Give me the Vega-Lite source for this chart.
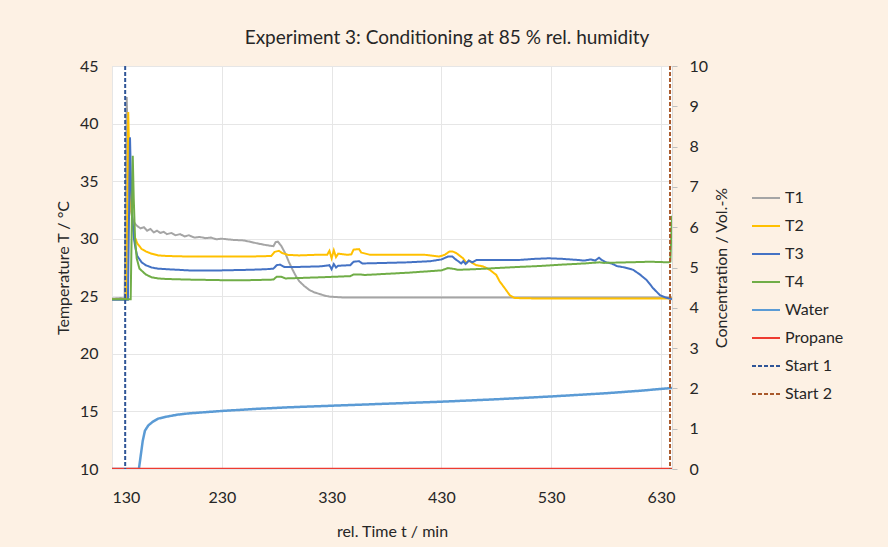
{
  "$schema": "https://vega.github.io/schema/vega-lite/v6.json",
  "width": 560,
  "height": 403,
  "autosize": {"type": "none"},
  "padding": {"left": 112, "top": 66, "right": 216, "bottom": 78},
  "background": "#FDF1E4",
  "title": {"text": "Experiment 3: Conditioning at 85 % rel. humidity", "font": "Lato", "fontSize": 19, "fontWeight": "normal", "color": "#262626", "anchor": "middle", "frame": "group", "dx": 55, "offset": -5, "baseline": "alphabetic"},
  "config": {
    "font": "Lato",
    "view": {"fill": "white", "stroke": "#d9d9d9"},
    "axis": {"labelFont": "Lato", "titleFont": "Lato", "labelColor": "#262626", "titleColor": "#262626", "titleFontWeight": "normal", "labelFontSize": 16, "titleFontSize": 16, "gridColor": "#e6e6e6"},
    "legend": {"labelFont": "Lato", "labelFontSize": 16, "labelColor": "#262626"}
  },
  "datasets": {
    "temp": [
      {"t":130,"value":24.8,"series":"T1"},{"t":138,"value":24.85,"series":"T1"},{"t":141.5,"value":24.8,"series":"T1"},{"t":142.5,"value":33,"series":"T1"},{"t":143.4,"value":42.3,"series":"T1"},{"t":144.3,"value":38.5,"series":"T1"},{"t":145.5,"value":34.5,"series":"T1"},{"t":147,"value":32.5,"series":"T1"},{"t":149,"value":31.6,"series":"T1"},{"t":151,"value":31.3,"series":"T1"},{"t":153,"value":31.1,"series":"T1"},{"t":156,"value":30.9,"series":"T1"},{"t":159,"value":31.0,"series":"T1"},{"t":162,"value":30.7,"series":"T1"},{"t":165,"value":30.85,"series":"T1"},{"t":168,"value":30.55,"series":"T1"},{"t":171,"value":30.7,"series":"T1"},{"t":174,"value":30.5,"series":"T1"},{"t":177,"value":30.6,"series":"T1"},{"t":180,"value":30.4,"series":"T1"},{"t":184,"value":30.5,"series":"T1"},{"t":188,"value":30.3,"series":"T1"},{"t":192,"value":30.4,"series":"T1"},{"t":196,"value":30.2,"series":"T1"},{"t":200,"value":30.3,"series":"T1"},{"t":205,"value":30.1,"series":"T1"},{"t":210,"value":30.15,"series":"T1"},{"t":215,"value":30.05,"series":"T1"},{"t":220,"value":30.1,"series":"T1"},{"t":225,"value":29.95,"series":"T1"},{"t":230,"value":30.0,"series":"T1"},{"t":240,"value":29.9,"series":"T1"},{"t":250,"value":29.85,"series":"T1"},{"t":255,"value":29.75,"series":"T1"},{"t":262,"value":29.6,"series":"T1"},{"t":270,"value":29.45,"series":"T1"},{"t":277,"value":29.35,"series":"T1"},{"t":279,"value":29.7,"series":"T1"},{"t":281,"value":29.75,"series":"T1"},{"t":284,"value":29.4,"series":"T1"},{"t":288,"value":28.7,"series":"T1"},{"t":291,"value":28.0,"series":"T1"},{"t":294.5,"value":27.3,"series":"T1"},{"t":297.5,"value":26.75,"series":"T1"},{"t":300.6,"value":26.3,"series":"T1"},{"t":305,"value":25.9,"series":"T1"},{"t":309.7,"value":25.55,"series":"T1"},{"t":314,"value":25.35,"series":"T1"},{"t":318.9,"value":25.2,"series":"T1"},{"t":324,"value":25.05,"series":"T1"},{"t":328,"value":24.97,"series":"T1"},{"t":340,"value":24.9,"series":"T1"},{"t":400,"value":24.9,"series":"T1"},{"t":500,"value":24.9,"series":"T1"},{"t":600,"value":24.9,"series":"T1"},{"t":640,"value":24.9,"series":"T1"},
      {"t":130,"value":24.75,"series":"T2"},{"t":143,"value":24.75,"series":"T2"},{"t":144,"value":33,"series":"T2"},{"t":144.8,"value":41.0,"series":"T2"},{"t":145.7,"value":37,"series":"T2"},{"t":147,"value":33.5,"series":"T2"},{"t":149,"value":31,"series":"T2"},{"t":151,"value":30.1,"series":"T2"},{"t":153,"value":29.6,"series":"T2"},{"t":157,"value":29.1,"series":"T2"},{"t":160.7,"value":28.9,"series":"T2"},{"t":166,"value":28.7,"series":"T2"},{"t":172,"value":28.55,"series":"T2"},{"t":180,"value":28.5,"series":"T2"},{"t":200,"value":28.45,"series":"T2"},{"t":230,"value":28.45,"series":"T2"},{"t":255,"value":28.45,"series":"T2"},{"t":275,"value":28.5,"series":"T2"},{"t":278,"value":28.85,"series":"T2"},{"t":282,"value":28.95,"series":"T2"},{"t":285,"value":28.75,"series":"T2"},{"t":290,"value":28.6,"series":"T2"},{"t":300,"value":28.55,"series":"T2"},{"t":315,"value":28.6,"series":"T2"},{"t":326,"value":28.6,"series":"T2"},{"t":328,"value":28.95,"series":"T2"},{"t":330,"value":28.3,"series":"T2"},{"t":332,"value":29.0,"series":"T2"},{"t":334,"value":28.4,"series":"T2"},{"t":336,"value":28.7,"series":"T2"},{"t":345,"value":28.6,"series":"T2"},{"t":348,"value":28.65,"series":"T2"},{"t":350,"value":29.05,"series":"T2"},{"t":355,"value":29.1,"series":"T2"},{"t":357,"value":28.8,"series":"T2"},{"t":365,"value":28.6,"series":"T2"},{"t":380,"value":28.6,"series":"T2"},{"t":400,"value":28.6,"series":"T2"},{"t":415,"value":28.6,"series":"T2"},{"t":428,"value":28.45,"series":"T2"},{"t":433,"value":28.6,"series":"T2"},{"t":437.5,"value":28.9,"series":"T2"},{"t":440,"value":28.9,"series":"T2"},{"t":443.6,"value":28.75,"series":"T2"},{"t":449.7,"value":28.3,"series":"T2"},{"t":452.7,"value":27.9,"series":"T2"},{"t":455,"value":28.1,"series":"T2"},{"t":458,"value":27.9,"series":"T2"},{"t":461.8,"value":27.7,"series":"T2"},{"t":467.9,"value":27.6,"series":"T2"},{"t":474,"value":27.3,"series":"T2"},{"t":480,"value":26.85,"series":"T2"},{"t":483,"value":26.3,"series":"T2"},{"t":487.7,"value":25.7,"series":"T2"},{"t":492.2,"value":25.1,"series":"T2"},{"t":496.8,"value":24.85,"series":"T2"},{"t":520,"value":24.8,"series":"T2"},{"t":640,"value":24.8,"series":"T2"},
      {"t":130,"value":24.7,"series":"T3"},{"t":144.5,"value":24.7,"series":"T3"},{"t":145.5,"value":32,"series":"T3"},{"t":146.4,"value":38.8,"series":"T3"},{"t":147.3,"value":35,"series":"T3"},{"t":148.5,"value":31.8,"series":"T3"},{"t":150,"value":30,"series":"T3"},{"t":151.5,"value":29.1,"series":"T3"},{"t":153,"value":28.5,"series":"T3"},{"t":157,"value":27.95,"series":"T3"},{"t":160.7,"value":27.7,"series":"T3"},{"t":166,"value":27.5,"series":"T3"},{"t":172,"value":27.4,"series":"T3"},{"t":180,"value":27.35,"series":"T3"},{"t":200,"value":27.25,"series":"T3"},{"t":230,"value":27.25,"series":"T3"},{"t":255,"value":27.3,"series":"T3"},{"t":270,"value":27.35,"series":"T3"},{"t":277,"value":27.4,"series":"T3"},{"t":280,"value":27.7,"series":"T3"},{"t":283,"value":27.75,"series":"T3"},{"t":287,"value":27.55,"series":"T3"},{"t":300,"value":27.55,"series":"T3"},{"t":320,"value":27.6,"series":"T3"},{"t":328,"value":27.7,"series":"T3"},{"t":330,"value":27.35,"series":"T3"},{"t":332,"value":27.8,"series":"T3"},{"t":334,"value":27.5,"series":"T3"},{"t":336,"value":27.65,"series":"T3"},{"t":347,"value":27.7,"series":"T3"},{"t":350,"value":28.0,"series":"T3"},{"t":355,"value":28.05,"series":"T3"},{"t":358,"value":27.85,"series":"T3"},{"t":380,"value":27.9,"series":"T3"},{"t":400,"value":27.95,"series":"T3"},{"t":420,"value":28.05,"series":"T3"},{"t":430,"value":28.2,"series":"T3"},{"t":436,"value":28.45,"series":"T3"},{"t":440,"value":28.45,"series":"T3"},{"t":443,"value":28.2,"series":"T3"},{"t":446,"value":28.0,"series":"T3"},{"t":448,"value":27.85,"series":"T3"},{"t":450,"value":28.05,"series":"T3"},{"t":452,"value":27.8,"series":"T3"},{"t":455,"value":28.1,"series":"T3"},{"t":458,"value":27.95,"series":"T3"},{"t":462,"value":28.15,"series":"T3"},{"t":480,"value":28.15,"series":"T3"},{"t":500,"value":28.15,"series":"T3"},{"t":515,"value":28.25,"series":"T3"},{"t":528,"value":28.3,"series":"T3"},{"t":540,"value":28.25,"series":"T3"},{"t":555,"value":28.15,"series":"T3"},{"t":560,"value":28.1,"series":"T3"},{"t":566,"value":28.2,"series":"T3"},{"t":570,"value":28.1,"series":"T3"},{"t":573.5,"value":28.35,"series":"T3"},{"t":576,"value":28.15,"series":"T3"},{"t":580,"value":27.95,"series":"T3"},{"t":585,"value":27.85,"series":"T3"},{"t":589.6,"value":27.63,"series":"T3"},{"t":597,"value":27.5,"series":"T3"},{"t":604.6,"value":27.3,"series":"T3"},{"t":610.7,"value":26.9,"series":"T3"},{"t":617,"value":26.4,"series":"T3"},{"t":622.8,"value":25.7,"series":"T3"},{"t":629,"value":25.1,"series":"T3"},{"t":634,"value":24.9,"series":"T3"},{"t":638,"value":24.8,"series":"T3"},{"t":640,"value":24.75,"series":"T3"},
      {"t":130,"value":24.75,"series":"T4"},{"t":147,"value":24.75,"series":"T4"},{"t":148,"value":31,"series":"T4"},{"t":148.9,"value":37.2,"series":"T4"},{"t":149.8,"value":33.5,"series":"T4"},{"t":151,"value":30,"series":"T4"},{"t":152.5,"value":28.3,"series":"T4"},{"t":155,"value":27.4,"series":"T4"},{"t":160.7,"value":26.9,"series":"T4"},{"t":166,"value":26.65,"series":"T4"},{"t":172,"value":26.55,"series":"T4"},{"t":180,"value":26.5,"series":"T4"},{"t":200,"value":26.45,"series":"T4"},{"t":230,"value":26.4,"series":"T4"},{"t":255,"value":26.4,"series":"T4"},{"t":277,"value":26.45,"series":"T4"},{"t":280,"value":26.7,"series":"T4"},{"t":284,"value":26.7,"series":"T4"},{"t":288,"value":26.55,"series":"T4"},{"t":320,"value":26.65,"series":"T4"},{"t":347,"value":26.75,"series":"T4"},{"t":350,"value":26.9,"series":"T4"},{"t":356,"value":26.9,"series":"T4"},{"t":360,"value":26.85,"series":"T4"},{"t":400,"value":27.05,"series":"T4"},{"t":430,"value":27.25,"series":"T4"},{"t":436,"value":27.45,"series":"T4"},{"t":440,"value":27.4,"series":"T4"},{"t":445,"value":27.3,"series":"T4"},{"t":460,"value":27.35,"series":"T4"},{"t":480,"value":27.45,"series":"T4"},{"t":500,"value":27.55,"series":"T4"},{"t":520,"value":27.63,"series":"T4"},{"t":540,"value":27.75,"series":"T4"},{"t":560,"value":27.85,"series":"T4"},{"t":574,"value":27.95,"series":"T4"},{"t":578,"value":27.9,"series":"T4"},{"t":600,"value":27.95,"series":"T4"},{"t":620,"value":28.0,"series":"T4"},{"t":637,"value":27.95,"series":"T4"},{"t":638.5,"value":28.0,"series":"T4"},{"t":640,"value":32.0,"series":"T4"}
    ],
    "conc": [
      {"t":130,"value":0,"series":"Water"},{"t":154.5,"value":0,"series":"Water"},{"t":156,"value":0.3,"series":"Water"},{"t":158,"value":0.7,"series":"Water"},{"t":160,"value":0.95,"series":"Water"},{"t":163,"value":1.08,"series":"Water"},{"t":167,"value":1.17,"series":"Water"},{"t":172,"value":1.25,"series":"Water"},{"t":180,"value":1.3,"series":"Water"},{"t":190,"value":1.35,"series":"Water"},{"t":200,"value":1.38,"series":"Water"},{"t":215,"value":1.41,"series":"Water"},{"t":230,"value":1.44,"series":"Water"},{"t":260,"value":1.49,"series":"Water"},{"t":290,"value":1.53,"series":"Water"},{"t":330,"value":1.57,"series":"Water"},{"t":380,"value":1.62,"series":"Water"},{"t":430,"value":1.67,"series":"Water"},{"t":480,"value":1.73,"series":"Water"},{"t":530,"value":1.8,"series":"Water"},{"t":580,"value":1.88,"series":"Water"},{"t":610,"value":1.94,"series":"Water"},{"t":640,"value":2.01,"series":"Water"},
      {"t":130,"value":0,"series":"Propane"},{"t":640,"value":0,"series":"Propane"}
    ],
    "starts": [
      {"t":142,"series":"Start 1"},{"t":638.2,"series":"Start 2"}
    ]
  },
  "layer": [
    {
      "data": {"name": "temp"},
      "mark": {"type": "line", "strokeWidth": 2, "clip": true},
      "encoding": {
        "x": {"field": "t", "type": "quantitative", "scale": {"domain": [130, 640], "nice": false, "zero": false},
              "axis": {"values": [130, 230, 330, 430, 530, 630], "title": "rel. Time t  / min", "ticks": false, "domain": false, "grid": true, "labelPadding": 20, "titlePadding": 18}},
        "y": {"field": "value", "type": "quantitative", "scale": {"domain": [10, 45], "nice": false, "zero": false},
              "axis": {"orient": "left", "values": [10, 15, 20, 25, 30, 35, 40, 45], "title": "Temperature T / °C", "ticks": false, "domain": false, "grid": true, "labelPadding": 14, "titlePadding": 8}},
        "color": {"field": "series", "type": "nominal",
                  "scale": {"domain": ["T1", "T2", "T3", "T4", "Water", "Propane", "Start 1", "Start 2"], "range": ["#A5A5A5", "#FFC000", "#4472C4", "#70AD47", "#5B9BD5", "#EE3B30", "#2F5597", "#A9592B"]},
                  "legend": {"title": null, "orient": "none", "legendX": 639, "legendY": 117, "symbolType": "stroke", "symbolSize": 784, "symbolStrokeWidth": 2, "labelOffset": 4, "rowPadding": 5, "padding": 0}},
        "strokeDash": {"field": "series", "type": "nominal",
                  "scale": {"domain": ["T1", "T2", "T3", "T4", "Water", "Propane", "Start 1", "Start 2"], "range": [[1, 0], [1, 0], [1, 0], [1, 0], [1, 0], [1, 0], [4, 2], [4, 2]]},
                  "legend": {"title": null, "orient": "none", "legendX": 639, "legendY": 117, "symbolType": "stroke", "symbolSize": 784, "symbolStrokeWidth": 2, "labelOffset": 4, "rowPadding": 5, "padding": 0}},
        "order": {"field": "t", "type": "quantitative"}
      }
    },
    {
      "data": {"name": "conc"},
      "mark": {"type": "line", "strokeWidth": 2.5, "clip": true},
      "encoding": {
        "x": {"field": "t", "type": "quantitative"},
        "y": {"field": "value", "type": "quantitative", "scale": {"domain": [0, 10], "nice": false},
              "axis": {"orient": "right", "values": [0, 1, 2, 3, 4, 5, 6, 7, 8, 9, 10], "title": "Concentration / Vol.-%", "titleAngle": 270, "ticks": true, "tickSize": 5, "tickColor": "#bfbfbf", "domain": false, "grid": false, "labelPadding": 12, "titlePadding": 22}},
        "color": {"field": "series", "type": "nominal"},
        "strokeDash": {"field": "series", "type": "nominal"},
        "order": {"field": "t", "type": "quantitative"}
      }
    },
    {
      "data": {"name": "starts"},
      "mark": {"type": "rule", "strokeWidth": 2},
      "encoding": {
        "x": {"field": "t", "type": "quantitative"},
        "color": {"field": "series", "type": "nominal"},
        "strokeDash": {"field": "series", "type": "nominal"}
      }
    }
  ],
  "resolve": {"scale": {"y": "independent"}}
}
